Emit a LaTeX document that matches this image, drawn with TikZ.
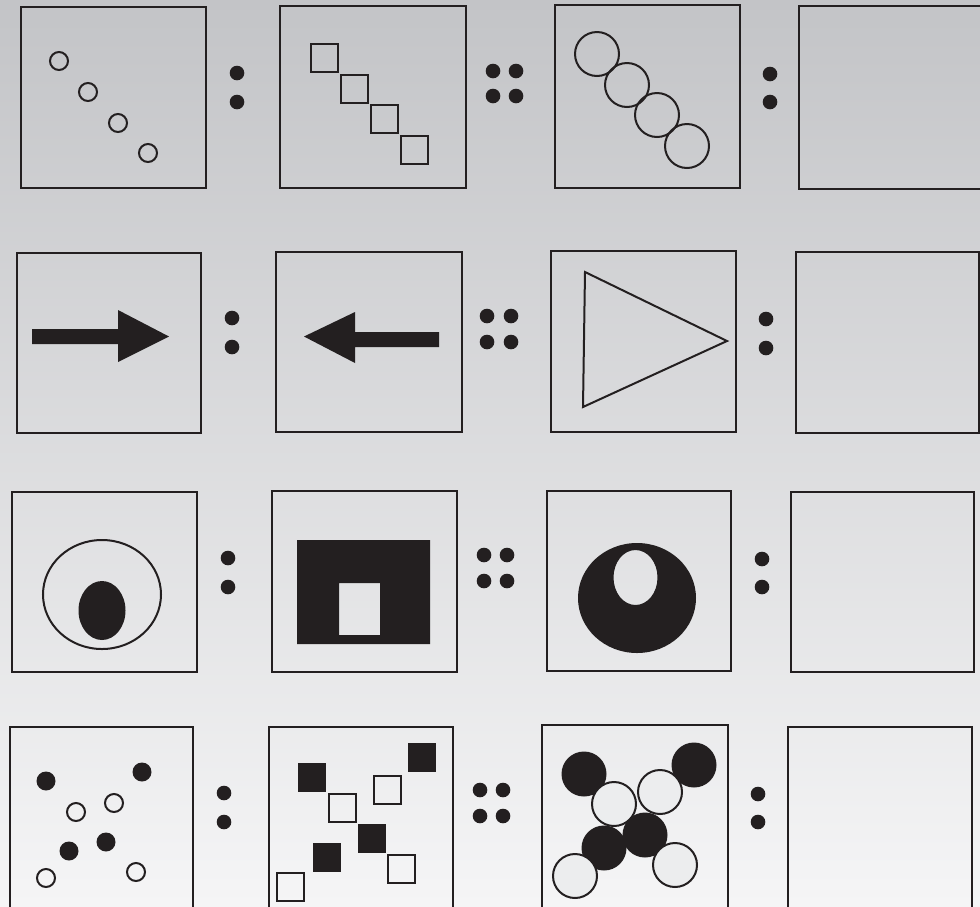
\documentclass[tikz,border=0pt]{standalone}
\usetikzlibrary{calc}

\definecolor{ink}{RGB}{35,31,32}
\definecolor{bgtop}{RGB}{195,196,199}
\definecolor{bgbot}{RGB}{245,245,246}
\definecolor{cellbg}{RGB}{236,237,238}

\begin{document}
\begin{tikzpicture}[
  x=1pt, y=-1pt,
  frame/.style={draw=ink, line width=2.3pt},
  outline/.style={draw=ink, line width=2pt},
  blot/.style={fill=ink},
  hole/.style={fill=ink, even odd rule},
  dot/.style={fill=ink}
]

\useasboundingbox (0,0) rectangle (980,906);
\clip (0,0) rectangle (980,906);
\shade[top color=bgtop, bottom color=bgbot] (0,0) rectangle (980,906);

% frames, row by row
\draw[frame] (21,7) rectangle (206,188);
\draw[frame] (280,6) rectangle (466,188);
\draw[frame] (555,5) rectangle (740,188);
\draw[frame] (799,6) rectangle (995,189);

\draw[frame] (17,253) rectangle (201,433);
\draw[frame] (276,252) rectangle (462,432);
\draw[frame] (551,251) rectangle (736,432);
\draw[frame] (796,252) rectangle (979,433);

\draw[frame] (12,492) rectangle (197,672);
\draw[frame] (272,491) rectangle (457,672);
\draw[frame] (547,491) rectangle (731,671);
\draw[frame] (791,492) rectangle (974,672);

\draw[frame] (10,727) rectangle (193,930);
\draw[frame] (269,727) rectangle (453,930);
\draw[frame] (542,725) rectangle (728,930);
\draw[frame] (788,727) rectangle (972,930);

% ratio marks
\foreach \x/\ya/\yb in {237/73/102, 770/74/102, 232/318/347, 766/319/348,
                        228/558/587, 762/559/587, 224/793/822, 758/794/822}
  \fill[dot] (\x,\ya) circle [radius=7.3] (\x,\yb) circle [radius=7.3];
\foreach \xa/\xb/\ya/\yb in {493/516/71/96, 487/511/316/342, 484/507/555/581, 480/503/790/816}
  \fill[dot] (\xa,\ya) circle [radius=7.3] (\xb,\ya) circle [radius=7.3]
             (\xa,\yb) circle [radius=7.3] (\xb,\yb) circle [radius=7.3];

% row 1
\foreach \x/\y in {59/61, 88/92, 118/123, 148/153}
  \draw[outline] (\x,\y) circle [radius=9];
\foreach \x/\y in {311/44, 341/75, 371/105, 401/136}
  \draw[outline] (\x,\y) rectangle ++(27,28);
\foreach \x/\y in {597/54, 627/85, 657/115, 687/146}
  \draw[outline] (\x,\y) circle [radius=22];

% row 2
\fill[blot] (32,329) -- (118,329) -- (118,310) -- (169,336.5) -- (118,362)
  -- (118,344) -- (32,344) -- cycle;
\fill[blot] (439,332) -- (355,332) -- (355,312) -- (304,336.5) -- (355,363)
  -- (355,347) -- (439,347) -- cycle;
\draw[outline] (585,272) -- (727,341) -- (583,407) -- cycle;

% row 3
\draw[outline] (102,594.5) ellipse [x radius=59, y radius=54.5];
\fill[blot] (102,610.5) ellipse [x radius=23.5, y radius=29.5];
\fill[hole] (297,540) rectangle (430,644) (339,583) rectangle (380,635);
\fill[hole] (637,598) ellipse [x radius=59, y radius=55]
            (635.5,577.5) ellipse [x radius=22, y radius=27.5];

% row 4
\foreach \x/\y in {46/781, 142/772, 69/851, 106/842}
  \fill[blot] (\x,\y) circle [radius=9.5];
\foreach \x/\y in {76/812, 114/803, 46/878, 136/872}
  \draw[outline] (\x,\y) circle [radius=9];
\foreach \x/\y in {298/763, 408/743, 358/824, 313/843}
  \fill[blot] (\x,\y) rectangle ++(28,29);
\foreach \x/\y in {329/794, 374/776, 388/855, 277/873}
  \draw[outline] (\x,\y) rectangle ++(27,28);
\foreach \x/\y in {584/774, 694/765, 604/848, 645/835}
  \fill[blot] (\x,\y) circle [radius=22.5];
\foreach \x/\y in {614/804, 660/792, 575/876, 675/865}
  \draw[outline, fill=cellbg] (\x,\y) circle [radius=22];

\end{tikzpicture}
\end{document}
